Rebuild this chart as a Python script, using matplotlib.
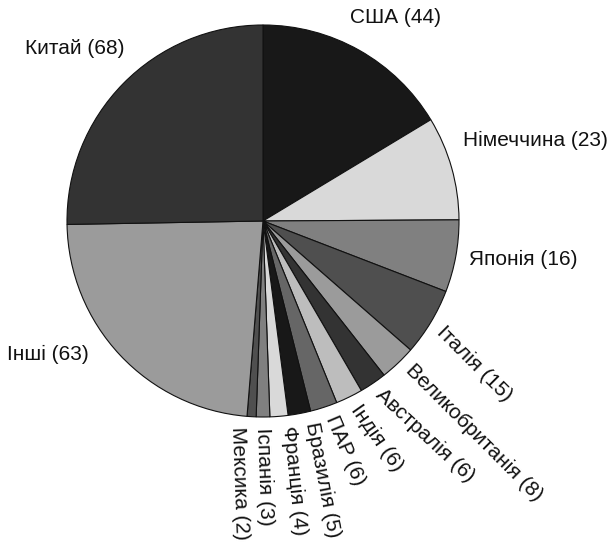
import matplotlib
matplotlib.use("Agg")
import matplotlib.pyplot as plt
import numpy as np

plt.rcParams['font.family'] = ['Liberation Sans', 'DejaVu Sans']

countries = ["США", "Німеччина", "Японія", "Італія", "Великобританія", "Австралія",
             "Індія", "ПАР", "Бразилія", "Франція", "Іспанія", "Мексика", "Інші", "Китай"]
values = [44, 23, 16, 15, 8, 6, 6, 6, 5, 4, 3, 2, 63, 68]

palette = ["#181818", "#d9d9d9", "#808080", "#4f4f4f", "#9b9b9b", "#333333", "#bdbdbd", "#666666"]
colors = [palette[i % len(palette)] for i in range(len(values))]

# horizontal labels: (angle in degrees, distance in radii) of label centre
horiz_pos = {"США": (56.9, 1.24), "Німеччина": (16.4, 1.45), "Японія": (-8.4, 1.34),
             "Китай": (137.5, 1.30), "Інші": (211.9, 1.29)}
# rotated labels: (anchor angle in degrees, text rotation in degrees)
rot_pos = {"Італія": (-31.5, -45), "Великобританія": (-45.0, -45), "Австралія": (-56.0, -43),
           "Індія": (-63.5, -55), "ПАР": (-71.0, -67), "Бразилія": (-76.5, -79),
           "Франція": (-83.0, -84), "Іспанія": (-90.0, -88), "Мексика": (-97.0, -88)}

FS = 15

fig = plt.figure(figsize=(6.10, 5.42), dpi=100)
ax = fig.add_axes([67/610, (542-417)/542, 392/610, 392/542])
wedges, _ = ax.pie(values, colors=colors, startangle=90, counterclock=False,
                   wedgeprops=dict(edgecolor="#111111", linewidth=0.8))
ax.set_xlim(-1, 1)
ax.set_ylim(-1, 1)
ax.set_aspect('equal')
ax.axis('off')

for w, name, v in zip(wedges, countries, values):
    label = f"{name} ({v})"
    if name in horiz_pos:
        a, r = horiz_pos[name]
        a = np.deg2rad(a)
        ax.text(r*np.cos(a), r*np.sin(a), label, ha='center', va='center',
                fontsize=FS, color="#111111", clip_on=False)
    else:
        a, rot = rot_pos[name]
        a = np.deg2rad(a)
        r = 1.055
        ax.text(r*np.cos(a), r*np.sin(a), label, ha='left', va='center',
                rotation=rot, rotation_mode='anchor',
                fontsize=FS, color="#111111", clip_on=False)

fig.savefig("out.png", dpi=100)
